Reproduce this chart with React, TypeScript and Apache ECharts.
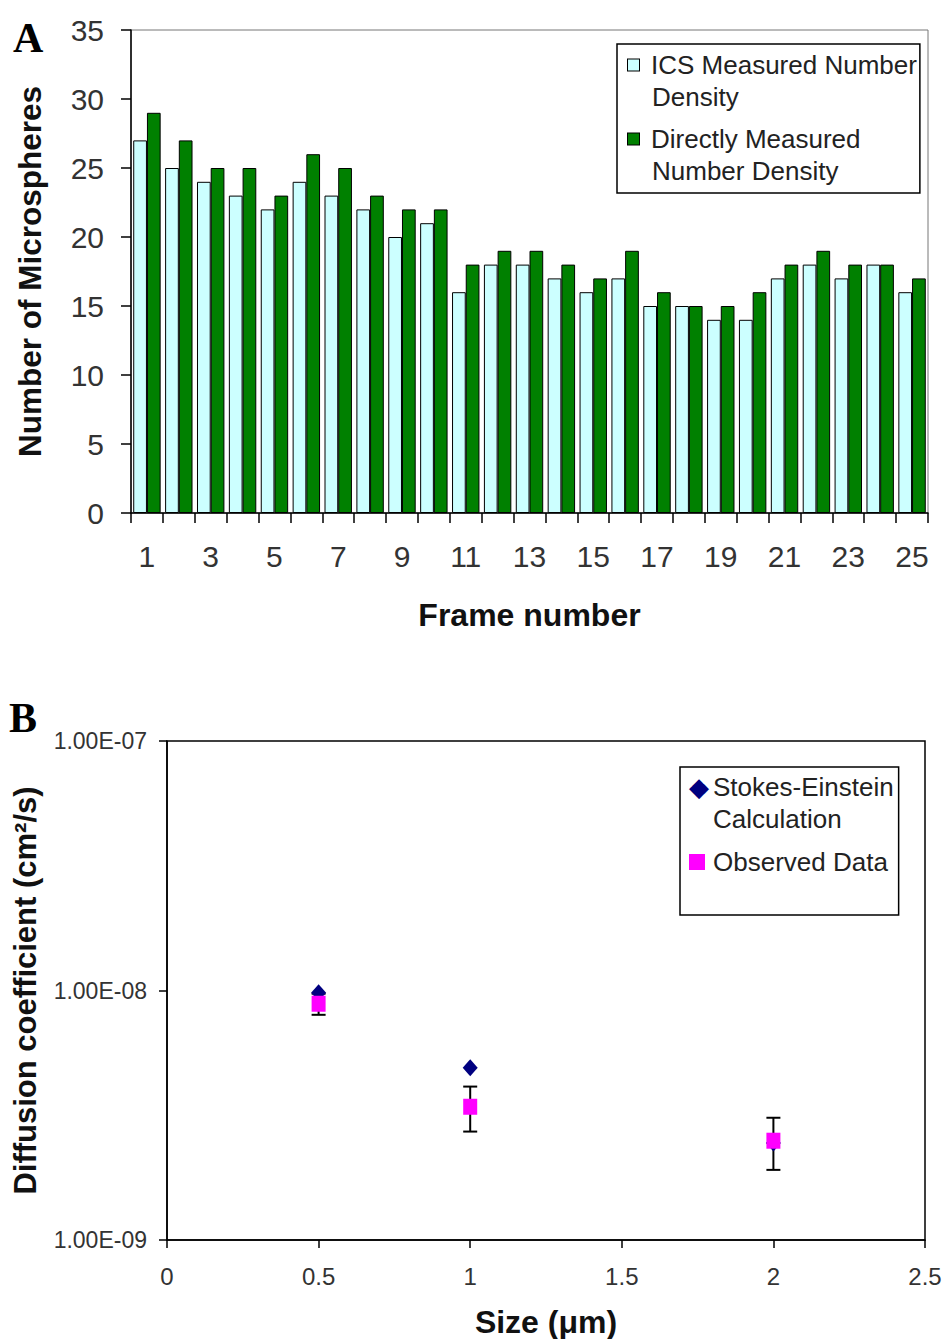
import React, { useEffect, useRef } from 'react';
import * as echarts from 'echarts';

const frames = ['1', '2', '3', '4', '5', '6', '7', '8', '9', '10', '11', '12', '13', '14', '15', '16', '17', '18', '19', '20', '21', '22', '23', '24', '25'];
const icsDensity = [27, 25, 24, 23, 22, 24, 23, 22, 20, 21, 16, 18, 18, 17, 16, 17, 15, 15, 14, 14, 17, 18, 17, 18, 16];
const directDensity = [29, 27, 25, 25, 23, 26, 25, 23, 22, 22, 18, 19, 19, 18, 17, 19, 16, 15, 15, 16, 18, 19, 18, 18, 17];

const sizes = [0.5, 1, 2];
const stokesEinstein = [9.8e-9, 4.9e-9, 2.45e-9];
const observed = [8.85e-9, 3.42e-9, 2.5e-9];
const observedError = [0.86e-9, 0.7e-9, 0.59e-9];

const SANS = '"Liberation Sans", Arial, sans-serif';
const SERIF = '"Liberation Serif", "Times New Roman", serif';

const ICS_NAME = 'ICS Measured Number Density';
const DIRECT_NAME = 'Directly Measured Number Density';
const SE_NAME = 'Stokes-Einstein Calculation';
const OBS_NAME = 'Observed Data';

function expLabel(v: number): string {
  const e = Math.round(Math.log10(v));
  const sign = e < 0 ? '-' : '+';
  return '1.00E' + sign + String(Math.abs(e)).padStart(2, '0');
}

export default function App() {
  const ref = useRef<HTMLDivElement>(null);

  useEffect(() => {
    if (!ref.current) return;
    const chart = echarts.init(ref.current, undefined, { renderer: 'svg' });

    const errData = sizes.map((s, i) => [s, observed[i] - observedError[i], observed[i] + observedError[i]]);

    const option: any = {
      animation: false,
      backgroundColor: '#fff',
      textStyle: { fontFamily: SANS },
      grid: [
        { left: 131, top: 30, width: 797, height: 483, show: true, borderColor: '#777', borderWidth: 1, backgroundColor: 'transparent' },
        { left: 167, top: 741, width: 758, height: 499, show: true, borderColor: '#000', borderWidth: 1.5, backgroundColor: 'transparent' },
      ],
      xAxis: [
        {
          type: 'category',
          gridIndex: 0,
          data: frames,
          axisLine: { lineStyle: { color: '#000', width: 1.5 } },
          axisTick: { show: true, interval: 0, length: 10, alignWithLabel: false, lineStyle: { color: '#000', width: 1.5 } },
          axisLabel: { interval: 1, fontSize: 30, color: '#333', margin: 28, fontFamily: SANS },
          name: 'Frame number',
          nameLocation: 'middle',
          nameGap: 86,
          nameTextStyle: { fontSize: 32, fontWeight: 'bold', color: '#111', fontFamily: SANS },
        },
        {
          type: 'value',
          gridIndex: 1,
          min: 0,
          max: 2.5,
          interval: 0.5,
          splitLine: { show: false },
          axisLine: { lineStyle: { color: '#000', width: 1.5 } },
          axisTick: { show: true, length: 8, lineStyle: { color: '#000', width: 1.5 } },
          axisLabel: { fontSize: 24, color: '#333', margin: 24, fontFamily: SANS },
          name: 'Size (μm)',
          nameLocation: 'middle',
          nameGap: 66,
          nameTextStyle: { fontSize: 32, fontWeight: 'bold', color: '#111', fontFamily: SANS },
        },
      ],
      yAxis: [
        {
          type: 'value',
          gridIndex: 0,
          min: 0,
          max: 35,
          interval: 5,
          splitLine: { show: false },
          axisLine: { show: true, lineStyle: { color: '#000', width: 1.5 } },
          axisTick: { show: true, length: 10, lineStyle: { color: '#000', width: 1.5 } },
          axisLabel: { fontSize: 30, color: '#333', margin: 27, fontFamily: SANS },
          name: 'Number of Microspheres',
          nameLocation: 'middle',
          nameGap: 85,
          nameTextStyle: { fontSize: 31.5, fontWeight: 'bold', color: '#111', fontFamily: SANS },
        },
        {
          type: 'log',
          logBase: 10,
          gridIndex: 1,
          min: 1e-9,
          max: 1e-7,
          splitLine: { show: false },
          minorTick: { show: false },
          axisLine: { show: true, lineStyle: { color: '#000', width: 1.5 } },
          axisTick: { show: true, length: 8, lineStyle: { color: '#000', width: 1.5 } },
          axisLabel: { fontSize: 23, color: '#333', margin: 20, fontFamily: SANS, formatter: (v: number) => expLabel(v) },
          name: 'Diffusion coefficient (cm²/s)',
          nameLocation: 'middle',
          nameGap: 126,
          nameTextStyle: { fontSize: 31, fontWeight: 'bold', color: '#111', fontFamily: SANS },
        },
      ],
      legend: [
        {
          data: [ICS_NAME, DIRECT_NAME],
          orient: 'vertical',
          left: 617,
          top: 44,
          padding: [5, 3, 6, 4],
          itemGap: 10,
          itemWidth: 1,
          itemHeight: 1,
          itemStyle: { opacity: 0 },
          selectedMode: false,
          borderColor: '#000',
          borderWidth: 1.5,
          backgroundColor: '#fff',
          formatter: (name: string) => {
            if (name === ICS_NAME) return '{sqA|}{g|}{t|ICS Measured Number}\n{g2|}{t|Density}';
            return '{sqB|}{g|}{t|Directly Measured}\n{g2|}{t|Number Density}';
          },
          textStyle: {
            color: '#222',
            fontFamily: SANS,
            fontSize: 26,
            lineHeight: 32,
            rich: {
              t: { fontSize: 26, lineHeight: 32, color: '#222', fontFamily: SANS },
              sqA: { width: 11, height: 11, backgroundColor: '#CCFFFF', borderColor: '#000', borderWidth: 1 },
              sqB: { width: 11, height: 11, backgroundColor: '#008000', borderColor: '#000', borderWidth: 1 },
              g: { width: 12 },
              g2: { width: 24 },
            },
          },
        },
        {
          data: [SE_NAME, OBS_NAME],
          orient: 'vertical',
          left: 680,
          top: 767,
          padding: [4, 5, 37, 3],
          itemGap: 11,
          itemWidth: 1,
          itemHeight: 1,
          itemStyle: { opacity: 0 },
          selectedMode: false,
          borderColor: '#000',
          borderWidth: 1.5,
          backgroundColor: '#fff',
          formatter: (name: string) => {
            if (name === SE_NAME) return '{dm|◆}{t|Stokes-Einstein}\n{g2|}{t|Calculation}';
            return '{sq|}{g|}{t|Observed Data}';
          },
          textStyle: {
            color: '#222',
            fontFamily: SANS,
            fontSize: 26,
            lineHeight: 32,
            rich: {
              t: { fontSize: 26, lineHeight: 32, color: '#222', fontFamily: SANS },
              dm: { width: 24, fontSize: 26, lineHeight: 32, color: '#000080', fontFamily: '"DejaVu Sans", sans-serif', align: 'left' },
              sq: { width: 16, height: 16, backgroundColor: '#FF00FF' },
              g: { width: 8 },
              g2: { width: 24 },
            },
          },
        },
      ],
      graphic: [
        { type: 'text', left: 13, top: 17, style: { text: 'A', font: 'bold 42px ' + SERIF, fill: '#000' } },
        { type: 'text', left: 9, top: 697, style: { text: 'B', font: 'bold 42px ' + SERIF, fill: '#000' } },
      ],
      series: [
        {
          name: ICS_NAME,
          type: 'bar',
          xAxisIndex: 0,
          yAxisIndex: 0,
          data: icsDensity,
          barGap: '0%',
          barCategoryGap: '14%',
          itemStyle: { color: '#CCFFFF', borderColor: '#000', borderWidth: 1 },
        },
        {
          name: DIRECT_NAME,
          type: 'bar',
          xAxisIndex: 0,
          yAxisIndex: 0,
          data: directDensity,
          barGap: '0%',
          barCategoryGap: '14%',
          itemStyle: { color: '#008000', borderColor: '#000', borderWidth: 1 },
        },
        {
          name: 'Observed error',
          type: 'custom',
          xAxisIndex: 1,
          yAxisIndex: 1,
          data: errData,
          encode: { x: 0, y: [1, 2] },
          z: 1,
          renderItem: (params: any, api: any) => {
            const x = api.value(0);
            const lo = api.coord([x, api.value(1)]);
            const hi = api.coord([x, api.value(2)]);
            const cap = 7;
            const style = { stroke: '#000', lineWidth: 2 };
            return {
              type: 'group',
              children: [
                { type: 'line', shape: { x1: lo[0], y1: lo[1], x2: hi[0], y2: hi[1] }, style },
                { type: 'line', shape: { x1: lo[0] - cap, y1: lo[1], x2: lo[0] + cap, y2: lo[1] }, style },
                { type: 'line', shape: { x1: hi[0] - cap, y1: hi[1], x2: hi[0] + cap, y2: hi[1] }, style },
              ],
            };
          },
        },
        {
          name: SE_NAME,
          type: 'scatter',
          xAxisIndex: 1,
          yAxisIndex: 1,
          data: sizes.map((s, i) => [s, stokesEinstein[i]]),
          symbol: 'diamond',
          symbolSize: [15, 17],
          itemStyle: { color: '#000080', opacity: 1 },
          z: 2,
        },
        {
          name: OBS_NAME,
          type: 'scatter',
          xAxisIndex: 1,
          yAxisIndex: 1,
          data: sizes.map((s, i) => [s, observed[i]]),
          symbol: 'rect',
          symbolSize: [14, 16],
          itemStyle: { color: '#FF00FF', opacity: 1 },
          z: 3,
        },
      ],
    };

    chart.setOption(option);
    return () => chart.dispose();
  }, []);

  return <div ref={ref} style={{ position: 'fixed', left: 0, top: 0, width: 948, height: 1339, background: '#fff' }} />;
}
